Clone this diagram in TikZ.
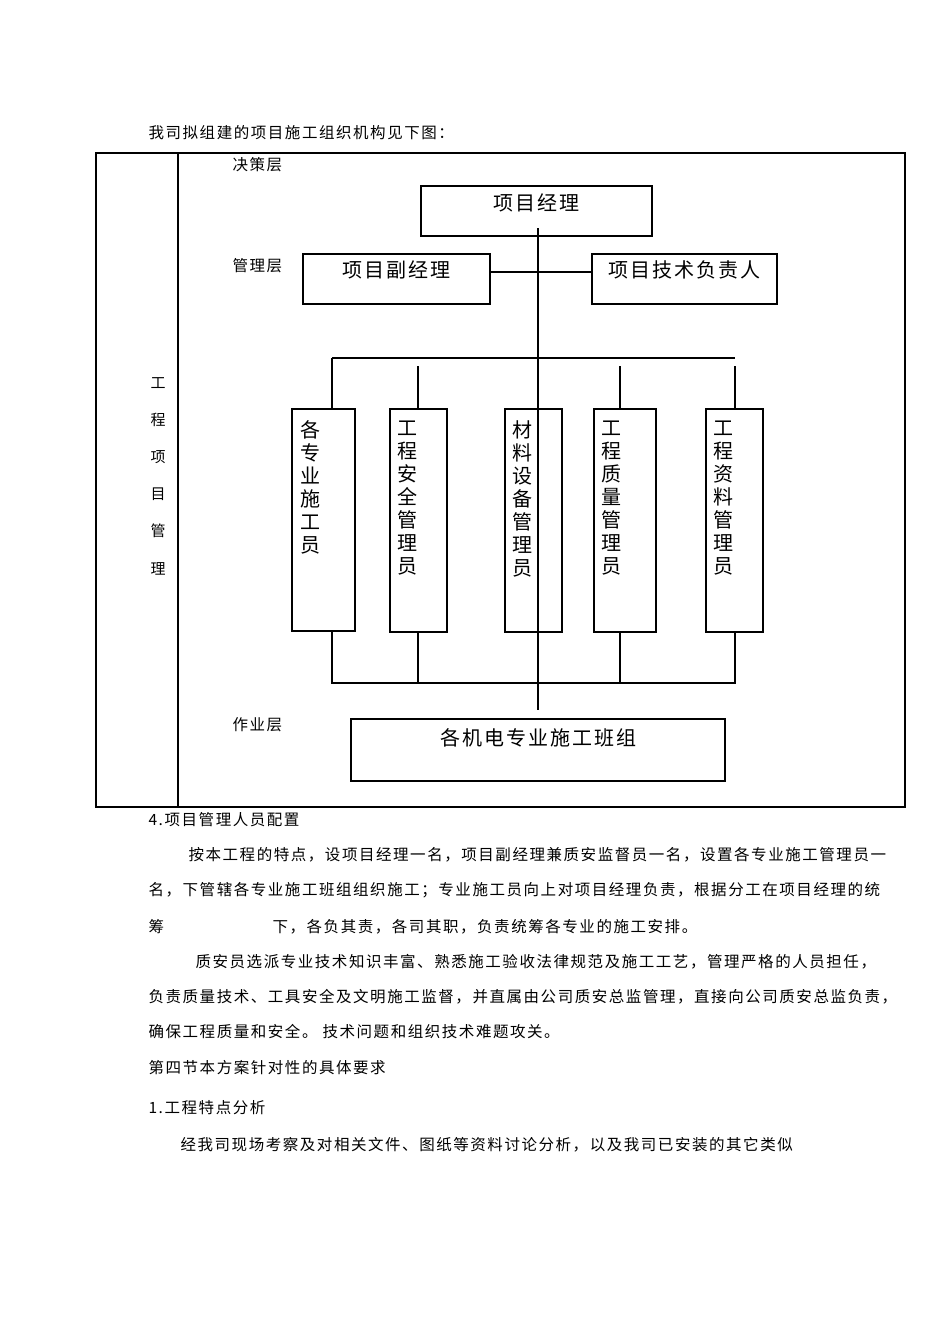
\documentclass[tikz,border=0pt]{standalone}
\usepackage{fontspec}
\setmainfont{Noto Sans CJK SC}[LetterSpace=10]
\begin{document}
\begin{tikzpicture}[x=1pt,y=-1pt,line width=1.2pt,
  t/.style={font=\fontsize{15.5}{15.5}\selectfont,anchor=west,inner sep=0pt},
  vt/.style={font=\fontsize{20}{23}\selectfont,align=center,anchor=north,inner sep=0pt},
  bt/.style={font=\fontsize{20}{20}\selectfont,inner sep=0pt}]
\useasboundingbox (0,0) rectangle (950,1344);
\node[t] (intro) at (148,133) {我司拟组建的项目施工组织机构见下图：};
\draw (96,153) rectangle (905,807);
\draw (178,153) -- (178,807);
\foreach \c/\y in {工/383,程/420,项/457,目/494,管/531,理/569}
  \node[bt,font=\fontsize{15}{15}\selectfont] at (158,\y) {\c};
\node[t] (l1) at (232,165) {决策层};
\node[t] (l2) at (232,266) {管理层};
\node[t] (l3) at (232,725) {作业层};
\draw (421,186) rectangle (652,236);
\node[bt] (pm) at (536,203) {项目经理};
\draw (303,254) rectangle (490,304);
\node[bt] (dpm) at (396,270) {项目副经理};
\draw (592,254) rectangle (777,304);
\node[bt] (tech) at (684,270) {项目技术负责人};
\draw (490,272) -- (592,272);
\draw (538,228) -- (538,710);
\draw (332,358) -- (735,358);
\draw (332,358) -- (332,409);
\draw (418,366) -- (418,409);
\draw (620,366) -- (620,409);
\draw (735,366) -- (735,409);
\draw (292,409) rectangle (355,631);
\draw (390,409) rectangle (447,632);
\draw (505,409) rectangle (562,632);
\draw (594,409) rectangle (656,632);
\draw (706,409) rectangle (763,632);
\node[vt] (b1) at (310,420) {各\\专\\业\\施\\工\\员};
\node[vt] (b2) at (407,420) {工\\程\\安\\全\\管\\理\\员};
\node[vt] (b3) at (522,420) {材\\料\\设\\备\\管\\理\\员};
\node[vt] (b4) at (611,420) {工\\程\\质\\量\\管\\理\\员};
\node[vt] (b5) at (723,420) {工\\程\\资\\料\\管\\理\\员};
\draw (332,631) -- (332,683) -- (735,683) -- (735,632);
\draw (418,632) -- (418,683);
\draw (620,632) -- (620,683);
\draw (351,719) rectangle (725,781);
\node[bt] (team) at (538,738) {各机电专业施工班组};
\node[t] (p1) at (148,820) {4.项目管理人员配置};
\node[t] (p2) at (188,855) {按本工程的特点，设项目经理一名，项目副经理兼质安监督员一名，设置各专业施工管理员一};
\node[t] (p3) at (148,890) {名，下管辖各专业施工班组组织施工；专业施工员向上对项目经理负责，根据分工在项目经理的统};
\node[t] (p4a) at (148,927) {筹};
\node[t] (p4) at (272,927) {下，各负其责，各司其职，负责统筹各专业的施工安排。};
\node[t] (p5) at (195,962) {质安员选派专业技术知识丰富、熟悉施工验收法律规范及施工工艺，管理严格的人员担任，};
\node[t] (p6) at (148,997) {负责质量技术、工具安全及文明施工监督，并直属由公司质安总监管理，直接向公司质安总监负责，};
\node[t] (p7) at (148,1032) {确保工程质量和安全。 技术问题和组织技术难题攻关。};
\node[t] (p8) at (148,1068) {第四节本方案针对性的具体要求};
\node[t] (p9) at (148,1108) {1.工程特点分析};
\node[t] (p10) at (180,1145) {经我司现场考察及对相关文件、图纸等资料讨论分析，以及我司已安装的其它类似};
\end{tikzpicture}
\end{document}
